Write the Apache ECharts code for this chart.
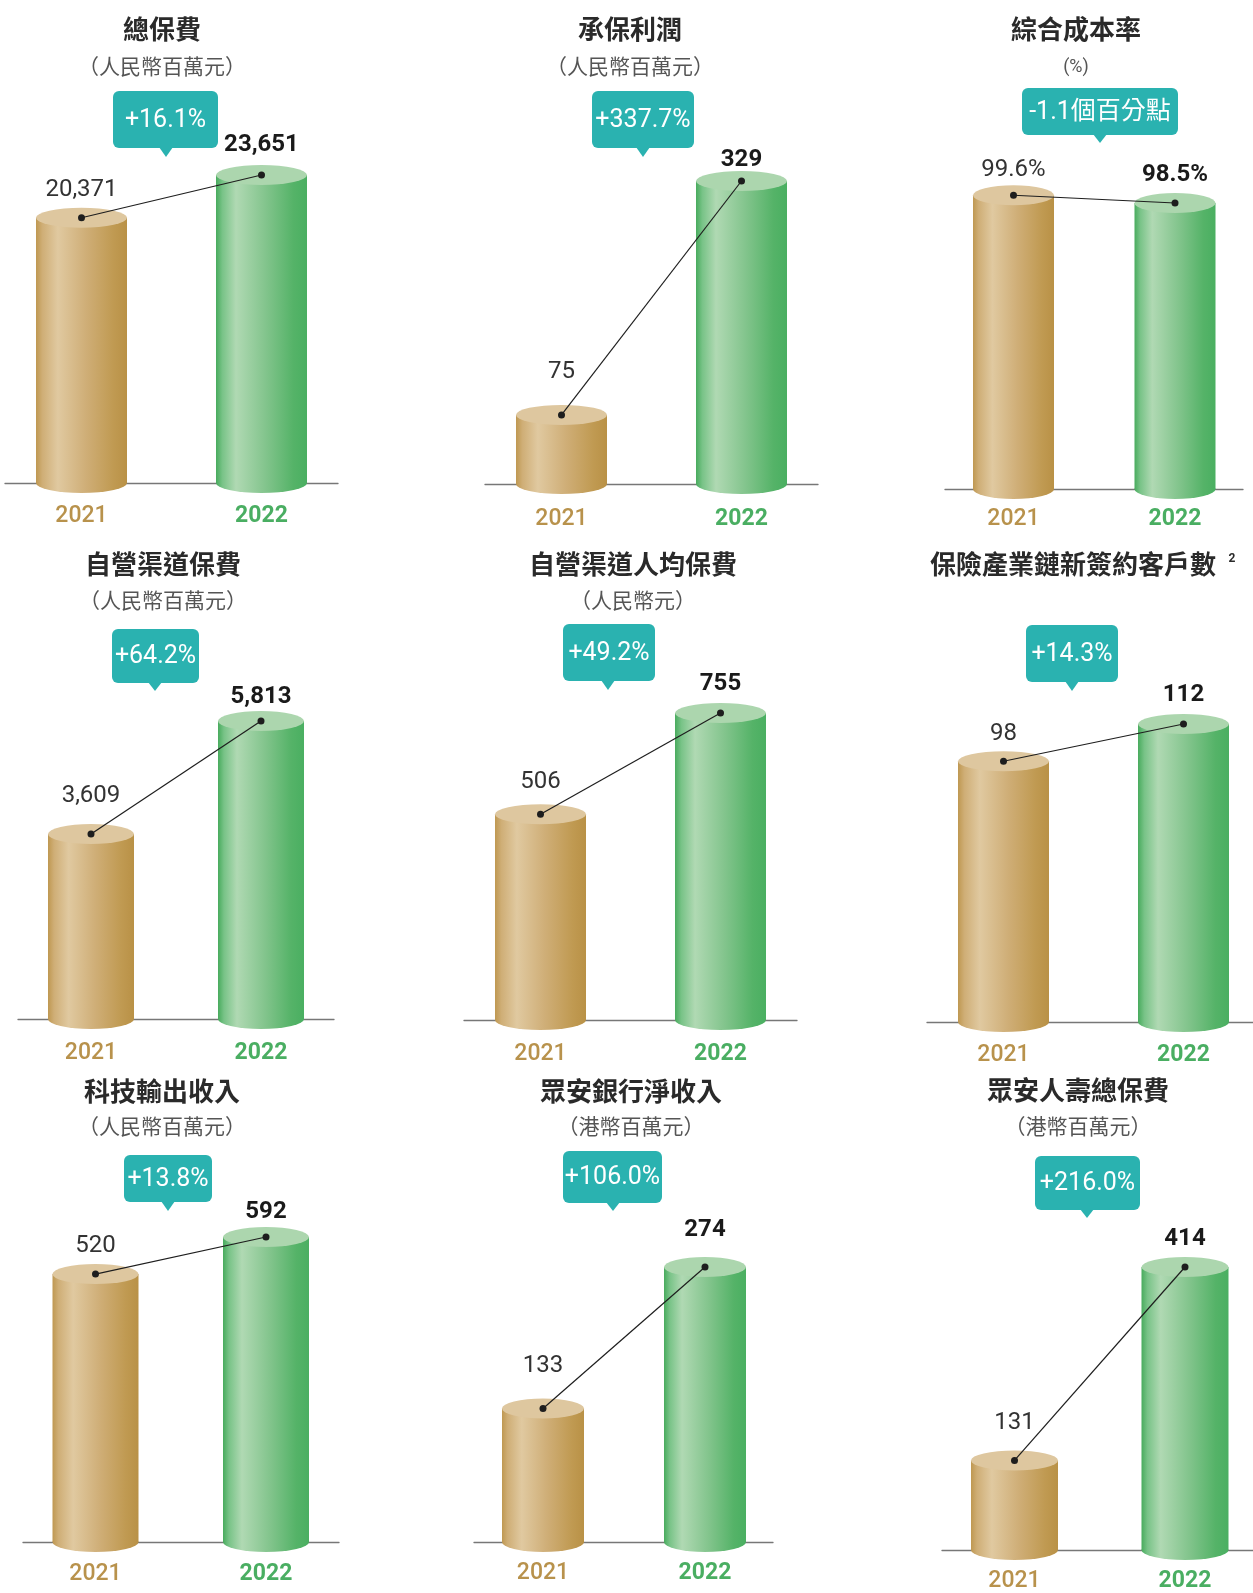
<!DOCTYPE html>
<html><head><meta charset="utf-8">
<script src="https://cdn.jsdelivr.net/npm/echarts@6/dist/echarts.min.js"></script>
<style>html,body{margin:0;padding:0;background:#fff}#c{width:1253px;height:1593px}</style>
</head><body><div id="c"></div>
<script>
// ---------- data ----------
const years = ['2021', '2022'];
const titles = ['總保費', '承保利潤', '綜合成本率', '自營渠道保費', '自營渠道人均保費', '保險產業鏈新簽約客戶數', '科技輸出收入', '眾安銀行淨收入', '眾安人壽總保費'];
const units = ['（人民幣百萬元）', '（人民幣百萬元）', '(%)', '（人民幣百萬元）', '（人民幣元）', '', '（人民幣百萬元）', '（港幣百萬元）', '（港幣百萬元）'];
const footnotes = ['', '', '', '', '', '2', '', '', ''];
const values2021 = [20371, 75, 99.6, 3609, 506, 98, 520, 133, 131];
const values2022 = [23651, 329, 98.5, 5813, 755, 112, 592, 274, 414];
const changes = ['+16.1%', '+337.7%', '-1.1個百分點', '+64.2%', '+49.2%', '+14.3%', '+13.8%', '+106.0%', '+216.0%'];

// ---------- layout (pixels) ----------
const layouts = [
  {xL:5,   xR:338,  base:483,  cx:[81.5,261.5],   w:91, top2:175,  yMin:0,  tx:162,  ty:29,   sy:66,   box:[113,91,218,148],    tip:[166,157],  dy:[-28,-30], yearDy:33},
  {xL:485, xR:818,  base:484,  cx:[561.5,741.5],  w:91, top2:181,  yMin:0,  tx:630,  ty:29,   sy:66,   box:[592,91,694,148],    tip:[643,157],  dy:[-43,-21], yearDy:35},
  {xL:945, xR:1243, base:489,  cx:[1013.5,1175],  w:81, top2:203,  yMin:58, tx:1076, ty:29,   sy:67,   box:[1022,88,1178,135],  tip:[1100,143], dy:[-25,-28], yearDy:30},
  {xL:18,  xR:334,  base:1019, cx:[91,261],       w:86, top2:721,  yMin:0,  tx:163,  ty:564,  sy:600,  box:[112,629,199,683],   tip:[155,691],  dy:[-38,-24], yearDy:34},
  {xL:464, xR:797,  base:1020, cx:[540.5,720.5],  w:91, top2:713,  yMin:0,  tx:633,  ty:564,  sy:600,  box:[563,624,655,681],   tip:[608,690],  dy:[-32,-29], yearDy:34},
  {xL:927, xR:1253, base:1022, cx:[1003.5,1183.5],w:91, top2:724,  yMin:0,  tx:1073, ty:564,  sy:600,  box:[1026,625,1118,682], tip:[1072,691], dy:[-27,-29], yearDy:33},
  {xL:23,  xR:339,  base:1542, cx:[95.5,266],     w:86, top2:1237, yMin:0,  tx:162,  ty:1091, sy:1126, box:[124,1155,212,1202], tip:[168,1211], dy:[-28,-25], yearDy:32},
  {xL:474, xR:773,  base:1542, cx:[543,705],      w:82, top2:1267, yMin:0,  tx:631,  ty:1091, sy:1126, box:[563,1151,662,1203], tip:[613,1211], dy:[-43,-37], yearDy:31},
  {xL:942, xR:1253, base:1550, cx:[1014.5,1185],  w:87, top2:1267, yMin:0,  tx:1078, ty:1090, sy:1126, box:[1035,1156,1140,1210],tip:[1087,1218], dy:[-37,-28], yearDy:31}
];

const NUM_FONT = 'Roboto, "Noto Sans CJK TC", sans-serif';
const CJK_FONT = '"Noto Sans CJK TC", "Noto Sans", sans-serif';
const TEAL = '#2ab2b0';
const yearColors = ['#b8924c', '#4aae62'];
const topColors = ['#dec79f', '#acd6ae'];
const bodyStops = [
  [{offset:0,color:'#bf9851'},{offset:0.07,color:'#cfae76'},{offset:0.24,color:'#e0c9a0'},{offset:0.55,color:'#cfae77'},{offset:0.85,color:'#c09a52'},{offset:1,color:'#b99146'}],
  [{offset:0,color:'#48ab5d'},{offset:0.07,color:'#78c387'},{offset:0.22,color:'#b0d9b3'},{offset:0.55,color:'#82c48c'},{offset:0.85,color:'#55b368'},{offset:1,color:'#4aaf61'}]
];

function fmt(i, v) {
  if (units[i] === '(%)') return v.toFixed(1) + '%';
  return v.toLocaleString('en-US');
}

const grids = [], xAxes = [], yAxes = [], series = [], graphics = [];
const H = 420;

layouts.forEach((p, i) => {
  const v1 = values2021[i], v2 = values2022[i];
  const D = p.cx[1] - p.cx[0];
  const xmin = -(p.cx[0] - p.xL) / D;
  const xmax = 1 + (p.xR - p.cx[1]) / D;
  const yMax = p.yMin + (v2 - p.yMin) * H / (p.base - p.top2);
  grids.push({left: p.xL, top: p.base - H, width: p.xR - p.xL, height: H, containLabel: false});
  xAxes.push({type:'value', gridIndex:i, min:xmin, max:xmax,
    axisLine:{show:true, onZero:false, lineStyle:{color:'#777', width:1.3}},
    axisTick:{show:false}, axisLabel:{show:false}, splitLine:{show:false}});
  yAxes.push({type:'value', gridIndex:i, min:p.yMin, max:yMax, show:false, splitLine:{show:false}});

  series.push({
    type:'custom', xAxisIndex:i, yAxisIndex:i, clip:false, z:2,
    data:[[0, v1], [1, v2]],
    renderItem: function(params, api) {
      const k = params.dataIndex;
      const top = api.coord([api.value(0), api.value(1)]);
      const base = api.coord([api.value(0), p.yMin]);
      const cx = top[0], rx = p.w / 2, ry = 10;
      const grad = new echarts.graphic.LinearGradient(0, 0, 1, 0, bodyStops[k]);
      return {type:'group', children:[
        {type:'circle', shape:{cx:0, cy:0, r:rx}, x:cx, y:base[1], scaleY:ry/rx, style:{fill:grad}},
        {type:'rect', shape:{x:cx - rx, y:top[1], width:p.w, height:base[1] - top[1]}, style:{fill:grad}},
        {type:'circle', shape:{cx:0, cy:0, r:rx}, x:cx, y:top[1], scaleY:ry/rx, style:{fill:topColors[k]}},
        {type:'text', x:cx, y:base[1] + p.yearDy, style:{text:years[k], fill:yearColors[k],
          font:(k === 1 ? 'bold ' : '500 ') + '23px ' + NUM_FONT,
          align:'center', verticalAlign:'middle', textAlign:'center', textVerticalAlign:'middle'}}
      ]};
    }
  });

  series.push({
    type:'line', xAxisIndex:i, yAxisIndex:i, z:5,
    symbol:'circle', symbolSize:7,
    itemStyle:{color:'#1e1e1e'},
    lineStyle:{color:'#1e1e1e', width:1.2},
    label:{show:true, position:'inside', fontFamily:NUM_FONT, fontSize:24,
      formatter: (d) => fmt(i, d.value[1])},
    data:[
      {value:[0, v1], label:{offset:[0, p.dy[0]], color:'#333', fontWeight:'normal'}},
      {value:[1, v2], label:{offset:[0, p.dy[1]], color:'#1a1a1a', fontWeight:'bold'}}
    ]
  });

  // titles
  graphics.push({type:'text', x:p.tx, y:p.ty, z:10, style:{text:titles[i], fill:'#2a2a2a',
    font:'bold 26px ' + CJK_FONT, align:'center', verticalAlign:'middle', textAlign:'center', textVerticalAlign:'middle'}});
  if (footnotes[i]) {
    graphics.push({type:'text', x:p.tx + 159, y:p.ty - 5, z:10, style:{text:footnotes[i], fill:'#2a2a2a',
      font:'bold 12px ' + NUM_FONT, align:'center', verticalAlign:'middle', textAlign:'center', textVerticalAlign:'middle'}});
  }
  if (units[i]) {
    const isPct = units[i] === '(%)';
    graphics.push({type:'text', x:p.tx, y:p.sy, z:10, style:{text:units[i], fill:'#555',
      font:(isPct ? '18px ' + NUM_FONT : '21px ' + CJK_FONT), align:'center', verticalAlign:'middle', textAlign:'center', textVerticalAlign:'middle'}});
  }
  // change callout
  const b = p.box;
  graphics.push({type:'group', z:10, children:[
    {type:'rect', shape:{x:b[0], y:b[1], width:b[2] - b[0], height:b[3] - b[1], r:6}, style:{fill:TEAL}},
    {type:'polygon', shape:{points:[[p.tip[0] - 7, b[3] - 1], [p.tip[0] + 7, b[3] - 1], [p.tip[0], p.tip[1]]]}, style:{fill:TEAL}},
    {type:'text', x:(b[0] + b[2]) / 2, y:(b[1] + b[3]) / 2 + 1, style:{text:changes[i], fill:'#ffffff',
      font:'25px ' + NUM_FONT, align:'center', verticalAlign:'middle', textAlign:'center', textVerticalAlign:'middle'}}
  ]});
});

const chart = echarts.init(document.getElementById('c'), null, {renderer:'canvas'});
chart.setOption({
  animation:false,
  backgroundColor:'#ffffff',
  grid:grids, xAxis:xAxes, yAxis:yAxes, series:series, graphic:graphics
});
</script></body></html>
